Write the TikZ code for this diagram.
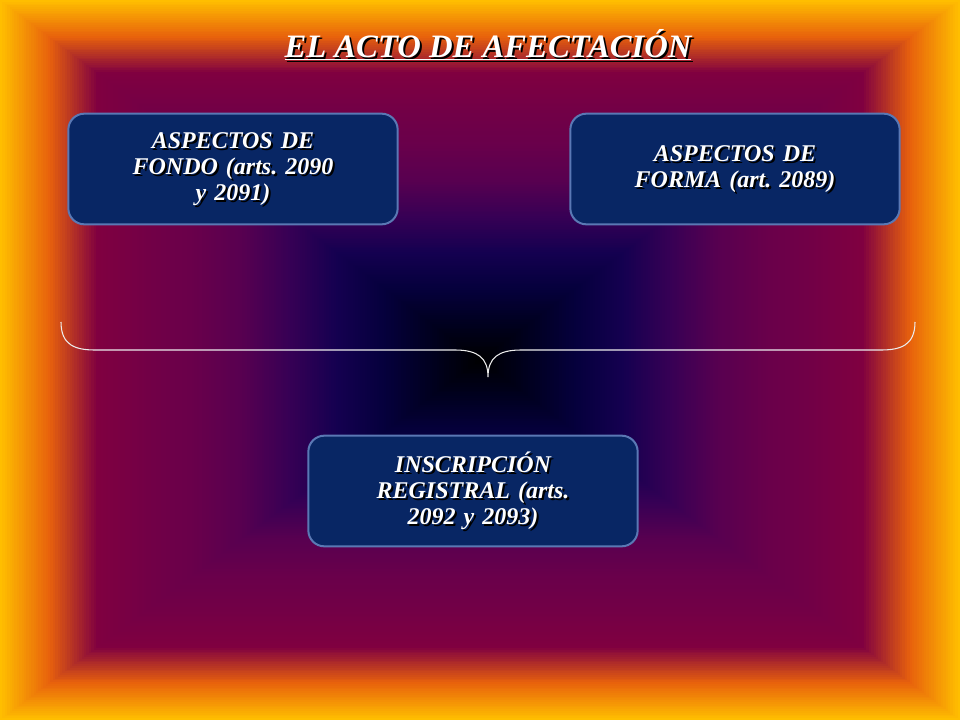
\documentclass[tikz,border=0pt]{standalone}
\usepackage{fontspec}
\setmainfont{Liberation Serif}
\frenchspacing
\definecolor{g0}{RGB}{255,190,0}
\definecolor{g1}{RGB}{232,98,12}
\definecolor{g2}{RGB}{128,0,64}
\definecolor{g3}{RGB}{115,0,70}
\definecolor{g4}{RGB}{105,0,75}
\definecolor{g5}{RGB}{88,0,80}
\definecolor{g6}{RGB}{55,0,85}
\definecolor{g7}{RGB}{20,0,80}
\definecolor{g8}{RGB}{5,0,60}
\definecolor{g9}{RGB}{0,0,30}
\definecolor{g10}{RGB}{0,0,0}
\definecolor{boxfill}{RGB}{8,38,100}
\definecolor{boxline}{RGB}{90,120,180}
\tikzset{
  box/.style={draw=boxline, line width=1.5pt, fill=boxfill, rounded corners=12pt, minimum width=247pt, minimum height=83pt, inner sep=0pt},
  lbl/.style={text=white, font=\bfseries\itshape\fontsize{18}{19.5}\selectfont, align=center, text width=235pt},
}
\newcommand{\shtext}[2]{\node[lbl,text=black] at ([shift={(1.5pt,-1.5pt)}]#1) {#2};\node[lbl] at (#1) {#2};}
\begin{document}
\begin{tikzpicture}[x=0.75pt,y=-0.75pt]
\useasboundingbox (0,0) rectangle (960,720);
\foreach \i [evaluate=\i as \j using int(\i+1)] in {0,...,9}{
  \foreach \k in {0,...,19}{
    \pgfmathsetmacro{\t}{100-10*\i-\k/2}
    \pgfmathsetmacro{\p}{int(\k*5)}
    \fill[g\j!\p!g\i] ({480-4.8*\t},{360-3.6*\t}) rectangle ({480+4.8*\t},{360+3.6*\t});
  }
}
\node[box] (fondo) at (233,169) {};
\node[box] (forma) at (735,169) {};
\node[box] (insc) at (473,491) {};
\shtext{fondo}{ASPECTOS DE\\FONDO (arts. 2090\\y 2091)}
\shtext{forma}{ASPECTOS DE\\FORMA (art. 2089)}
\shtext{insc}{INSCRIPCIÓN\\REGISTRAL (arts.\\2092 y 2093)}
\coordinate (tt) at (488,45);
\node[text=black,font=\bfseries\itshape\fontsize{24.5}{28}\selectfont] at ([shift={(1.5pt,-1.5pt)}]tt) {\underline{EL ACTO DE AFECTACIÓN}};
\node[text=white,font=\bfseries\itshape\fontsize{24.5}{28}\selectfont] (title) at (tt) {\underline{EL ACTO DE AFECTACIÓN}};
\coordinate (bl) at (61,322);
\coordinate (br) at (915,322);
\coordinate (tip) at (488,377);
\draw[white!85!gray, line width=0.8pt] (bl) .. controls (61,345) and (75,350) .. (95,350) -- (455,350) .. controls (478,350) and (488,358) .. (tip)
  .. controls (488,358) and (498,350) .. (521,350) -- (881,350) .. controls (901,350) and (915,345) .. (br);
\end{tikzpicture}
\end{document}
